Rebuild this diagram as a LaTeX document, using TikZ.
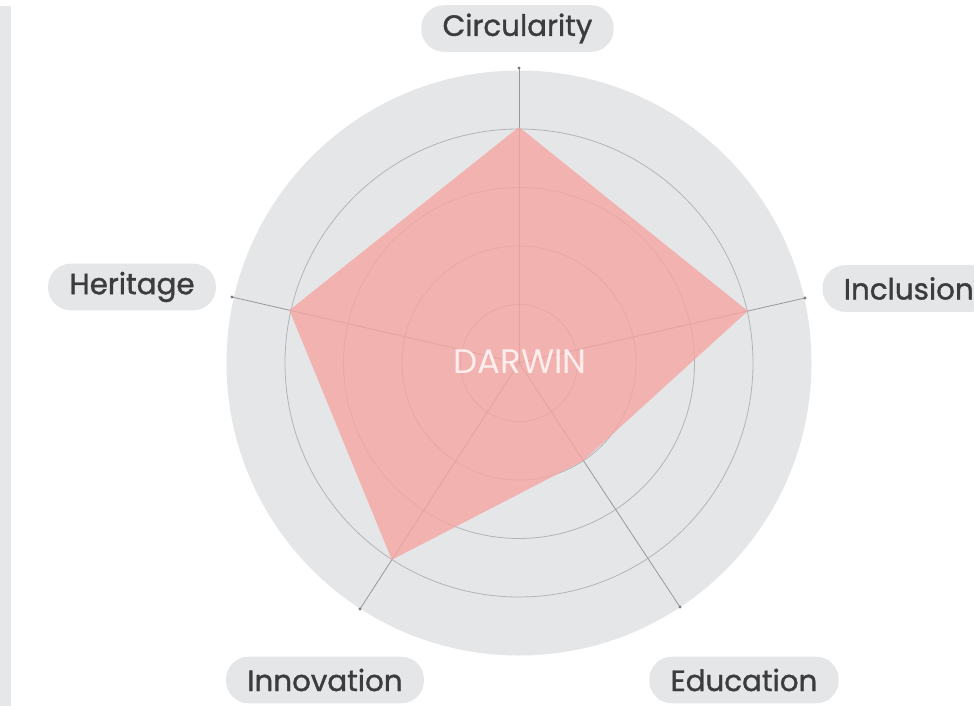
\documentclass[tikz,border=0pt]{standalone}
\usepackage{fontspec}
\setmainfont{Poppins}
\newfontfamily\labelfont{Poppins}[FakeBold=1.2]
\usetikzlibrary{calc}

\definecolor{barGray}{RGB}{230,231,233}
\definecolor{diskGray}{RGB}{229,230,232}
\definecolor{ringGray}{RGB}{178,180,184}
\definecolor{spokeGray}{RGB}{150,152,156}
\definecolor{polyPink}{RGB}{245,166,162}
\definecolor{pillGray}{RGB}{229,230,231}
\definecolor{labelGray}{RGB}{60,60,62}
\definecolor{darwinWhite}{RGB}{253,238,237}

\tikzset{every picture/.style={line width=0.75pt}}

\begin{document}
\begin{tikzpicture}[x=0.75pt,y=0.75pt,yscale=-1,xscale=1,
  pill/.style={fill=pillGray, rounded corners=17pt, minimum height=35pt, inner xsep=16pt, text=labelGray, font=\labelfont\fontsize{22}{26}\selectfont},
  ring/.style={draw=ringGray, line width=0.6pt},
  spoke/.style={draw=spokeGray, line width=0.6pt}]
%set diagram left start at 0, and has height of 706
\useasboundingbox (0,0) rectangle (974,706);
\clip (0,0) rectangle (974,706);

%Shape: Rectangle [left bar]
\fill[barGray] (0,6) rectangle (11,706);

% centre and spoke ends
\coordinate (c) at (519,363);
\coordinate (eCirc) at (519,68);
\coordinate (eIncl) at (805,298);
\coordinate (eEdu) at (680,607);
\coordinate (eInno) at (360,609);
\coordinate (eHer) at (232,297);

%Shape: Circle [outer disk]
\fill[diskGray] (c) circle (292.5);
%Shape: Circle [rings]
\foreach \r in {58.5,117,175.5,234}
  \draw[ring] (c) circle (\r);

%Straight Lines [spokes]
\foreach \e in {eCirc,eIncl,eEdu,eInno,eHer}{
  \draw[spoke] (c) -- (\e);
  \fill[spokeGray!80!black] (\e) circle (1.6);
}

%Shape: Polygon [scores]
\fill[polyPink, fill opacity=0.8]
  ($(c)!0.8!(eCirc)$) -- ($(c)!0.8!(eIncl)$) -- ($(c)!0.4!(eEdu)$)
  -- ($(c)!0.8!(eInno)$) -- ($(c)!0.8!(eHer)$) -- cycle;

% Text Node
\node[text=darwinWhite, font=\fontsize{25.5}{28}\selectfont] (darwin) at (520,362) {DARWIN};

% Text Node
\node[pill] (circ) at (517.5,28.5) {Circularity};
% Text Node
\node[pill, anchor=west] (incl) at (822,288.5) {Inclusion};
% Text Node
\node[pill] (edu) at (744,680) {Education};
% Text Node
\node[pill] (inno) at (325,680) {Innovation};
% Text Node
\node[pill] (her) at (132,287) {Heritage};

\end{tikzpicture}
\end{document}
